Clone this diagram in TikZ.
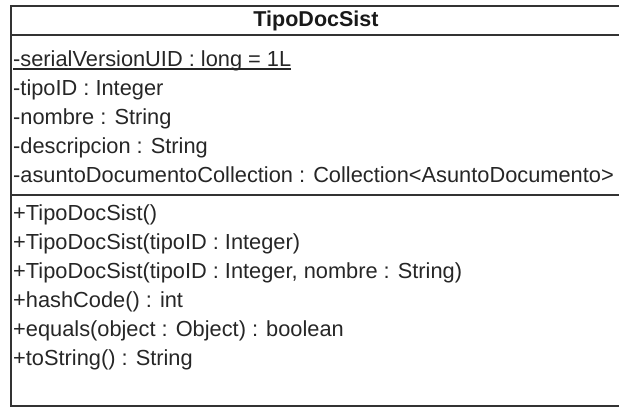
\documentclass[tikz,border=0pt]{standalone}
\usepackage{fontspec}
\setmainfont{Liberation Sans}
\begin{document}
\begin{tikzpicture}[x=1pt,y=-1pt,
  boxline/.style={draw=black!80, line width=1.3pt},
  member/.style={anchor=base west, inner sep=0pt, text=black!85, font=\fontsize{21.8}{25}\selectfont},
  titletext/.style={anchor=base, inner sep=0pt, text=black!90, font=\fontsize{21.5}{25}\selectfont\bfseries}]
\useasboundingbox (0,0) rectangle (619,407);
% class box
\draw[boxline] (622,6) -- (11,6) -- (11,406) -- (622,406);
\draw[boxline] (11,35) -- (622,35);
\draw[boxline] (11,195) -- (622,195);
% title
\node[titletext] (title) at (316,26) {TipoDocSist};
% attributes
\node[member] (a1) at (13,66) {-serialVersionUID : long = 1L};
\node[member] (a2) at (13,95) {-tipoID : Integer};
\node[member] (a3) at (13,124) {-nombre : String};
\node[member] (a4) at (13,153) {-descripcion : String};
\node[member] (a5) at (13,182) {-asuntoDocumentoCollection : Collection<AsuntoDocumento>};
\draw[black!85, line width=1.1pt] ([yshift=-3pt]a1.base west) -- ([yshift=-3pt]a1.base east);
% operations
\node[member] (m1) at (13,220) {+TipoDocSist()};
\node[member] (m2) at (13,249) {+TipoDocSist(tipoID : Integer)};
\node[member] (m3) at (13,278) {+TipoDocSist(tipoID : Integer, nombre : String)};
\node[member] (m4) at (13,307) {+hashCode() : int};
\node[member] (m5) at (13,336) {+equals(object : Object) : boolean};
\node[member] (m6) at (13,365) {+toString() : String};
\end{tikzpicture}
\end{document}
